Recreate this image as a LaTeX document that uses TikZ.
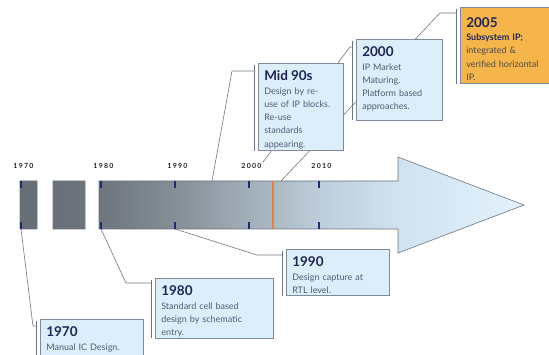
\documentclass[tikz,border=0pt]{standalone}
\usepackage{fontspec}
\setmainfont{Lato}
\usepackage{tikz}
\usetikzlibrary{positioning}
\usetikzlibrary{backgrounds}

\definecolor{boxfill}{HTML}{DDEEFB}
\definecolor{boxline}{HTML}{7E8A98}
\definecolor{goldfill}{HTML}{F5B54A}
\definecolor{yearnavy}{HTML}{1E2656}
\definecolor{bodygray}{HTML}{4E5A74}
\definecolor{tickblue}{HTML}{1C2C6E}
\definecolor{markorange}{HTML}{E8803A}
\definecolor{connline}{HTML}{6F7882}
\definecolor{barline}{HTML}{6A7480}
\definecolor{tsA}{HTML}{686E75}
\definecolor{tsB}{HTML}{6D747C}
\definecolor{tsC}{HTML}{858E97}
\definecolor{tsD}{HTML}{A1ADB8}
\definecolor{tsE}{HTML}{BDCCD9}
\definecolor{tsF}{HTML}{D0E2F0}
\definecolor{tsG}{HTML}{E3F2FD}

\pgfdeclarehorizontalshading{timeshade}{100bp}{color(0bp)=(tsA); color(25bp)=(tsA);
  color(32.75bp)=(tsB); color(40.3bp)=(tsC); color(47.5bp)=(tsD);
  color(54.5bp)=(tsE); color(62.5bp)=(tsF); color(75bp)=(tsG); color(100bp)=(tsG)}

\newcommand{\evyear}[2][17.5pt]{\rule{0pt}{#1}{\fontsize{13.5}{14}\selectfont\bfseries\color{yearnavy}#2}}
\newcommand{\evend}[1]{\rule[-#1]{0pt}{#1}}

\tikzset{
  eventbox/.style={draw=boxline, fill=boxfill, line width=0.6pt, anchor=north west,
    align=left, inner xsep=6pt, inner ysep=0pt, text=bodygray,
    font=\fontsize{9}{13.3}\selectfont},
  boxbar/.style={draw=boxline!85!black, line width=0.9pt},
  conn/.style={draw=connline, line width=0.6pt},
  tick/.style={draw=tickblue, line width=1.3pt},
  yearlabel/.style={font=\bfseries\fontsize{7}{7}\selectfont\addfontfeatures{LetterSpace=18},
    text=black!85, inner sep=1pt},
}

\begin{document}
\begin{tikzpicture}[x=1pt, y=-1pt]
  \useasboundingbox (0,0) rectangle (549,355);
  \clip (0,0) rectangle (549,355);

  % the time arrow
  \shade[shading=timeshade, draw=barline, line width=0.6pt]
    (20,181) rectangle (37,229)
    (53,181) rectangle (85,229)
    (99,181) -- (398,181) -- (398,157) -- (524,205) -- (398,253) -- (398,229) -- (99,229) -- cycle;

  \foreach \name/\x in {70/21, 80/101, 90/175, 00/249, 10/319} {
    \coordinate (k\name t) at (\x,181);
    \coordinate (k\name b) at (\x,229);
    \draw[tick] (k\name t) -- ++(0,7);
    \draw[tick] (k\name b) -- ++(0,-7);
  }
  \coordinate (k05t) at (273,181);
  \coordinate (k05b) at (273,229);
  \draw[draw=markorange, line width=1.6pt] (k05t) -- (k05b);
  \coordinate (k05c) at (281,181);
  \coordinate (kmid) at (212,181);

  \foreach \name/\lab in {70/1970, 80/1980, 90/1990, 00/2000, 10/2010}
    \node[yearlabel, above=11pt of k\name t, xshift=2.5pt] (l\name) {\lab};

  % events
  \node[eventbox, text width=91pt] (b70) at (40,319)
    {\evyear{1970}\\Manual IC Design.\evend{15pt}};
  \node[eventbox, text width=106pt] (b80) at (155,278)
    {\evyear{1980}\\Standard cell based\\design by schematic\\entry.\evend{2.5pt}};
  \node[eventbox, text width=91pt] (b90) at (286,249)
    {\evyear{1990}\\Design capture at\\RTL level.\evend{2pt}};
  \node[eventbox, text width=73pt] (bmid) at (258,63)
    {\evyear{Mid 90s}\\Design by re-\\use of IP blocks.\\Re-use\\standards\\appearing.\evend{3pt}};
  \node[eventbox, text width=74pt] (b00) at (356,39)
    {\evyear{2000}\\IP Market\\Maturing.\\Platform based\\approaches.\evend{10pt}};
  \node[eventbox, fill=goldfill, text=black!70, text width=83pt] (b05) at (460,7)
    {\evyear[20pt]{2005}\\{\bfseries\color{yearnavy}Subsystem IP;}\\integrated \&\\verified horizontal\\IP.\evend{3pt}};

  \foreach \b in {b70, b80, b90, bmid, b00, b05}
    \draw[boxbar] ([xshift=-3.5pt,yshift=-2pt]\b.north west) -- ([xshift=-3.5pt]\b.south west);

  % connectors, behind the boxes
  \begin{scope}[on background layer]
    \draw[conn] (k70b) -- ([xshift=-7pt,yshift=-7pt]b70.north west) -- ([xshift=-3.5pt,yshift=-7pt]b70.north west);
    \draw[conn] (k80b) -- ([xshift=-29pt,yshift=-5pt]b80.north west) -- ([xshift=-3.5pt,yshift=-5pt]b80.north west);
    \draw[conn] (k90b) -- ([xshift=-29pt,yshift=-6pt]b90.north west) -- ([xshift=-3.5pt,yshift=-6pt]b90.north west);
    \draw[conn] (kmid) -- ([xshift=-26pt,yshift=-8pt]bmid.north west) -- ([xshift=-3.5pt,yshift=-8pt]bmid.north west);
    \draw[conn] (l00.north east) -- ([xshift=-6pt,yshift=-8pt]b00.north west) -- ([xshift=-3.5pt,yshift=-8pt]b00.north west);
    \draw[conn] (k05c) -- ([xshift=-20pt,yshift=-6pt]b05.north west) -- ([xshift=-3.5pt,yshift=-6pt]b05.north west);
  \end{scope}
\end{tikzpicture}
\end{document}
